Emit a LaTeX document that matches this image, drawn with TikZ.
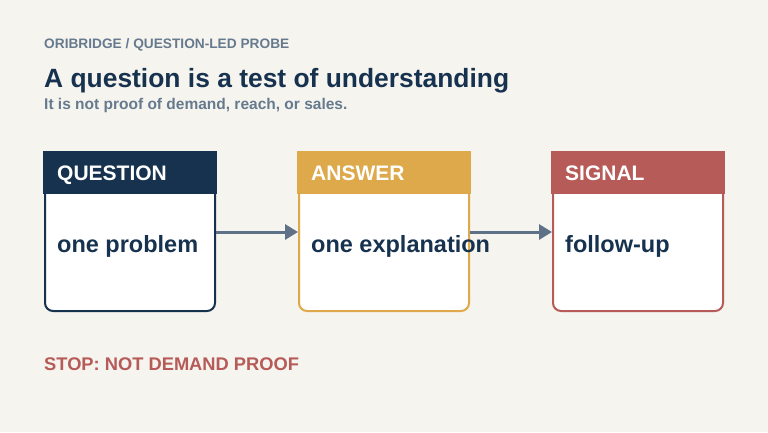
\documentclass[tikz,border=0pt]{standalone}
\usepackage{fontspec}
\setmainfont{Liberation Sans}
\usetikzlibrary{calc,arrows.meta}
\tikzset {>=Triangle}

\definecolor{paper}{HTML}{F6F4EF}
\definecolor{navy}{HTML}{16324F}
\definecolor{gold}{HTML}{DDA94B}
\definecolor{brick}{HTML}{B65B57}
\definecolor{slate}{HTML}{667A8E}
\definecolor{wire}{HTML}{5E7186}

\tikzset{
  card/.style={draw=#1,line width=2pt,fill=white,rounded corners=8pt,
    minimum width=170pt,minimum height=158pt,inner sep=0pt},
  cardhead/.style={font=\bfseries\fontsize{21}{25}\selectfont,text=white,
    anchor=base west,inner sep=0pt},
  cardtext/.style={font=\bfseries\fontsize{23.5}{28}\selectfont,text=navy,
    anchor=base west,inner sep=0pt},
  flow/.style={->,draw=wire,line width=3pt},
  txt/.style={anchor=base west,inner sep=0pt,font=\bfseries},
}

\begin{document}
\begin{tikzpicture}[x=1pt,y=-1pt]
\fill[paper] (0,0) rectangle (768,432);
\useasboundingbox (0,0) rectangle (768,432);

% Heading
\node[txt,text=slate,font=\bfseries\fontsize{13.7}{16}\selectfont] (kicker) at (44,48) {ORIBRIDGE / QUESTION-LED PROBE};
\node[txt,text=navy,font=\bfseries\fontsize{26.4}{31}\selectfont] (title) at (44,87) {A question is a test of understanding};
\node[txt,text=slate,font=\bfseries\fontsize{15.5}{18}\selectfont] (sub) at (44,109) {It is not proof of demand, reach, or sales.};

% Cards
\node[card=navy] (Q) at (130,232) {};
\node[card=gold] (A) at (384,232) {};
\node[card=brick] (S) at (638,232) {};

\fill[navy] ($(Q.north west)+(-1,-1)$) rectangle ($(Q.north east)+(1,42)$);
\fill[gold] ($(A.north west)+(-1,-1)$) rectangle ($(A.north east)+(1,42)$);
\fill[brick] ($(S.north west)+(-1,-1)$) rectangle ($(S.north east)+(1,42)$);

\node[cardhead] (Qh) at ($(Q.north west)+(13,28)$) {QUESTION};
\node[cardhead] (Ah) at ($(A.north west)+(13,28)$) {ANSWER};
\node[cardhead] (Sh) at ($(S.north west)+(13,28)$) {SIGNAL};

% Arrows
\draw[flow,-{Triangle[length=13pt,width=15pt]}] (Q.east) -- (A.west);
\draw[flow,-{Triangle[length=13pt,width=15pt]}] (A.east) -- (S.west);

\node[cardtext] (Qt) at ($(Q.north west)+(13,100)$) {one problem};
\node[cardtext] (At) at ($(A.north west)+(13,100)$) {one explanation};
\node[cardtext] (St) at ($(S.north west)+(13,100)$) {follow-up};

% Stop line
\node[txt,text=brick,font=\bfseries\fontsize{18.3}{22}\selectfont] (stop) at (44,370) {STOP: NOT DEMAND PROOF};
\end{tikzpicture}
\end{document}
